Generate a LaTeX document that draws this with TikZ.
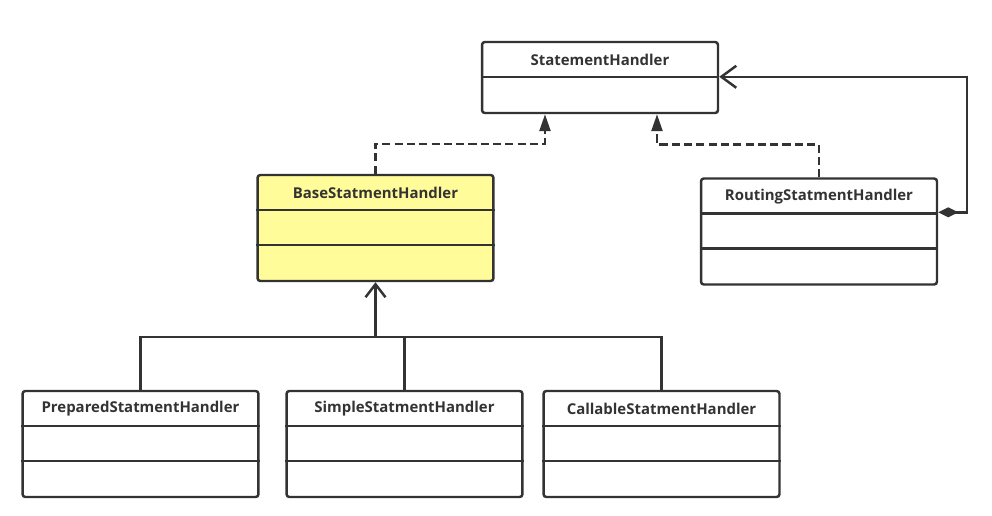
\documentclass[tikz,border=0pt]{standalone}
\usepackage{fontspec}
\setmainfont{Open Sans}
\usetikzlibrary{arrows.meta,calc,positioning}
\definecolor{umlline}{RGB}{51,51,51}
\definecolor{umlyellow}{RGB}{255,252,153}

\begin{document}
\begin{tikzpicture}[x=0.02cm, y=-0.02cm, line width=1.4pt, color=umlline,
  font=\fontsize{8.5}{10}\selectfont\bfseries]
\tikzset{%
  classbox/.style = {%
    draw,
    rounded corners = 1.6pt,
    fill = white,
    minimum width = 4.72cm,
    minimum height = 2.12cm,
    inner sep = 0pt
  },
  classname/.style = {%
    anchor = north,
    minimum height = .72cm,
    inner sep = 0pt
  },
  realize/.style = {%
    dash pattern = on 4.6pt off 2.4pt,
    -{Triangle[length=.34cm, width=.22cm]}
  },
  inherit/.style = {%
    -{Straight Barb[length=.26cm, width=.4cm]}
  },
  aggregate/.style = {%
    {Diamond[length=.4cm, width=.2cm]}-{Straight Barb[length=.3cm, width=.44cm]}
  }
}
  \fill[white] (0,0) rectangle (992,515);
  \useasboundingbox (0,0) rectangle (992,515);

  % interface
  \node[classbox, minimum height=1.42cm] (sh) at (600,77.5) {};
  \node[classname] (shname) at (sh.north) {StatementHandler};
  \draw ($(sh.north west)+(0,36)$) -- ($(sh.north east)+(0,36)$);

  % abstract base
  \node[classbox, fill=umlyellow] (base) at (375.5,228) {};
  \node[classname] (basename) at (base.north) {BaseStatmentHandler};
  \draw ($(base.north west)+(0,36)$) -- ($(base.north east)+(0,36)$);
  \draw ($(base.north west)+(0,71)$) -- ($(base.north east)+(0,71)$);

  \node[classbox] (rout) at (819,231.5) {};
  \node[classname] (routname) at (rout.north) {RoutingStatmentHandler};
  \draw ($(rout.north west)+(0,36)$) -- ($(rout.north east)+(0,36)$);
  \draw ($(rout.north west)+(0,71)$) -- ($(rout.north east)+(0,71)$);

  % subclasses
  \node[classbox] (prep) at (140.5,444) {};
  \node[classname] (prepname) at (prep.north) {PreparedStatmentHandler};
  \draw ($(prep.north west)+(0,36)$) -- ($(prep.north east)+(0,36)$);
  \draw ($(prep.north west)+(0,71)$) -- ($(prep.north east)+(0,71)$);

  \node[classbox] (simple) at (404.5,444) {};
  \node[classname] (simplename) at (simple.north) {SimpleStatmentHandler};
  \draw ($(simple.north west)+(0,36)$) -- ($(simple.north east)+(0,36)$);
  \draw ($(simple.north west)+(0,71)$) -- ($(simple.north east)+(0,71)$);

  \node[classbox] (call) at (661.5,444) {};
  \node[classname] (callname) at (call.north) {CallableStatmentHandler};
  \draw ($(call.north west)+(0,36)$) -- ($(call.north east)+(0,36)$);
  \draw ($(call.north west)+(0,71)$) -- ($(call.north east)+(0,71)$);

  % links
  \draw[realize] (base.north) -- ++(0,-30) -| ($(sh.south)+(-55,0)$);
  \draw[realize] (rout.north) -- ++(0,-33) -| ($(sh.south)+(57,0)$);
  \draw[aggregate] ($(rout.north east)+(0,35)$) -- ++(29,0)
    |- ($(sh.north east)+(0,36)$);

  \coordinate (bus) at ($(base.south)+(0,55)$);
  \draw[inherit] (bus) -- (base.south);
  \draw (prep.north) |- (bus);
  \draw (simple.north) |- (bus);
  \draw (call.north) |- (bus);
\end{tikzpicture}
\end{document}
